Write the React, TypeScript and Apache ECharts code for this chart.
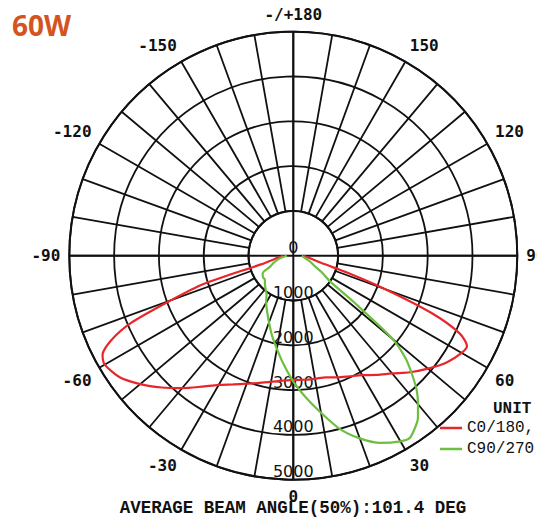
import React, { useEffect, useRef } from "react";
import * as echarts from "echarts";

// ---- texts ----
const TITLE = "60W";
const FOOTER = "AVERAGE BEAM ANGLE(50%):101.4 DEG";
const UNIT_LABEL = "UNIT";
const SERIES_NAMES = ["C0/180,", "C90/270"];

// ---- axes ----
const RADIUS_MIN = 0;
const RADIUS_MAX = 5000;
const RADIUS_STEP = 1000;
const SPOKE_STEP = 10;
const ANGLE_LABEL_STEP = 30;

// ---- data (angle in degrees, 0 = nadir, + to the right; value in cd) ----
const C0_ANGLES = [
  -90, -85, -80, -75, -72.5, -70, -67.5, -65, -62.5, -60, -55, -50, -45, -40, -35, -30, -25, -20, -15, -10, -5,
  0, 5, 10, 15, 20, 25, 30, 35, 40, 45, 50, 55, 60, 62.5, 65, 67.5, 70, 72.5, 75, 80, 85, 90,
];
const C0_VALUES = [
  230, 290, 420, 750, 2100, 2900, 3920, 4500, 4800, 4860, 4730, 4460, 4160, 3860, 3570, 3330, 3170, 3040, 2940, 2860, 2800,
  2770, 2780, 2790, 2810, 2890, 2970, 3080, 3250, 3430, 3680, 3920, 4165, 4340, 4370, 4090, 3330, 2185, 1270, 700, 420, 290, 230,
];
const C90_ANGLES = [
  -90, -85, -80, -75, -70, -65, -60, -55, -50, -45, -40, -35, -30, -25, -20, -15, -10, -5,
  0, 5, 10, 15, 20, 25, 30, 32.5, 35, 37.5, 40, 42.5, 45, 47.5, 50, 52.5, 55, 60, 65, 70, 75, 80, 85, 90,
];
const C90_VALUES = [
  140, 200, 280, 375, 470, 565, 790, 830, 830, 895, 965, 1040, 1210, 1380, 1585, 1840, 2110, 2440,
  2810, 3170, 3560, 4000, 4340, 4610, 4785, 4830, 4720, 4570, 4330, 4080, 3750, 3410, 2900, 1700, 1000, 720, 505, 410, 315, 250, 215, 190,
];

const COLORS = ["#e8262a", "#6cbf3f"];

const toAxisAngle = (a: number) => (a < 0 ? a + 360 : a);

export default function App() {
  const ref = useRef<HTMLDivElement>(null);
  useEffect(() => {
    if (!ref.current) return;
    const chart = echarts.init(ref.current, null, { renderer: "svg" });
    const center = [293.3, 255.7];
    const outer = 224;
    const inner = (outer * RADIUS_STEP) / RADIUS_MAX;
    const gridLine = { color: "#111", width: 1.8 };

    const angleBase = {
      type: "value",
      min: 0,
      max: 360,
      startAngle: 270,
      clockwise: false,
      axisTick: { show: false },
    };

    const series = [
      { angles: C0_ANGLES, values: C0_VALUES },
      { angles: C90_ANGLES, values: C90_VALUES },
    ].map((s, i) => ({
      type: "line",
      name: SERIES_NAMES[i],
      coordinateSystem: "polar",
      polarIndex: 1,
      showSymbol: false,
      smooth: 0.25,
      z: 5,
      lineStyle: { color: COLORS[i], width: 2.2 },
      itemStyle: { color: COLORS[i] },
      data: s.angles.map((a, k) => [s.values[k], toAxisAngle(a)]),
    }));

    chart.setOption({
      animation: false,
      polar: [
        { center, radius: [inner, outer] },
        { center, radius: [0, outer] },
        { center, radius: [0, outer] },
      ],
      angleAxis: [
        {
          ...angleBase,
          polarIndex: 0,
          interval: SPOKE_STEP,
          axisLine: { show: true, lineStyle: { color: "#111", width: 2 } },
          axisLabel: { show: false },
          splitLine: { show: true, lineStyle: gridLine },
        },
        {
          ...angleBase,
          polarIndex: 1,
          interval: ANGLE_LABEL_STEP,
          axisLine: { show: false },
          splitLine: { show: false },
          axisLabel: {
            show: true,
            margin: 9,
            color: "#111",
            fontFamily: "DejaVu Sans Mono",
            fontWeight: "bold",
            fontSize: 16,
            formatter: (v: number) => {
              if (v === 360) return "";
              if (v === 180) return "-/+180";
              return String(v > 180 ? v - 360 : v);
            },
          },
        },
        {
          ...angleBase,
          polarIndex: 2,
          interval: 90,
          axisLine: { show: false },
          axisLabel: { show: false },
          splitLine: { show: true, lineStyle: { color: "#111", width: 2 } },
        },
      ],
      radiusAxis: [
        {
          polarIndex: 0,
          type: "value",
          min: RADIUS_STEP,
          max: RADIUS_MAX,
          interval: RADIUS_STEP,
          axisLine: { show: false },
          axisTick: { show: false },
          axisLabel: { show: false },
          splitLine: { show: true, lineStyle: gridLine },
        },
        {
          polarIndex: 1,
          type: "value",
          min: RADIUS_MIN,
          max: RADIUS_MAX,
          interval: RADIUS_STEP,
          z: 4,
          axisLine: { show: false },
          axisTick: { show: false },
          splitLine: { show: false },
          axisLabel: {
            show: true,
            margin: 0,
            rotate: 0,
            align: "center",
            verticalAlign: "bottom",
            color: "#111",
            fontFamily: "DejaVu Sans",
            fontSize: 16,
            formatter: (v: number) => String(v),
          },
        },
        {
          polarIndex: 2,
          type: "value",
          min: RADIUS_MIN,
          max: RADIUS_MAX,
          axisLine: { show: false },
          axisTick: { show: false },
          axisLabel: { show: false },
          splitLine: { show: false },
        },
      ],
      legend: {
        orient: "vertical",
        left: 440,
        top: 420,
        itemGap: 5,
        itemWidth: 22,
        itemHeight: 2.5,
        icon: "rect",
        padding: 0,
        data: SERIES_NAMES,
        textStyle: { fontFamily: "Liberation Mono", fontSize: 16, color: "#111" },
      },
      graphic: [
        {
          type: "text",
          x: 12,
          y: 25,
          style: {
            text: TITLE,
            font: "bold 28px 'Open Sans'",
            fill: "#d4541f",
            verticalAlign: "middle",
          },
        },
        {
          type: "text",
          x: 493,
          y: 409,
          style: {
            text: UNIT_LABEL,
            font: "bold 16px 'Liberation Mono'",
            fill: "#111",
            verticalAlign: "middle",
          },
        },
        {
          type: "text",
          x: 293,
          y: 508,
          style: {
            text: FOOTER,
            font: "bold 17.5px 'Liberation Mono'",
            lineHeight: 14,
            fill: "#111",
            align: "center",
            verticalAlign: "middle",
          },
        },
      ],
      series,
    });
    return () => chart.dispose();
  }, []);
  return (
    <div
      ref={ref}
      style={{ position: "absolute", left: 0, top: 0, width: 537, height: 517 }}
    />
  );
}
